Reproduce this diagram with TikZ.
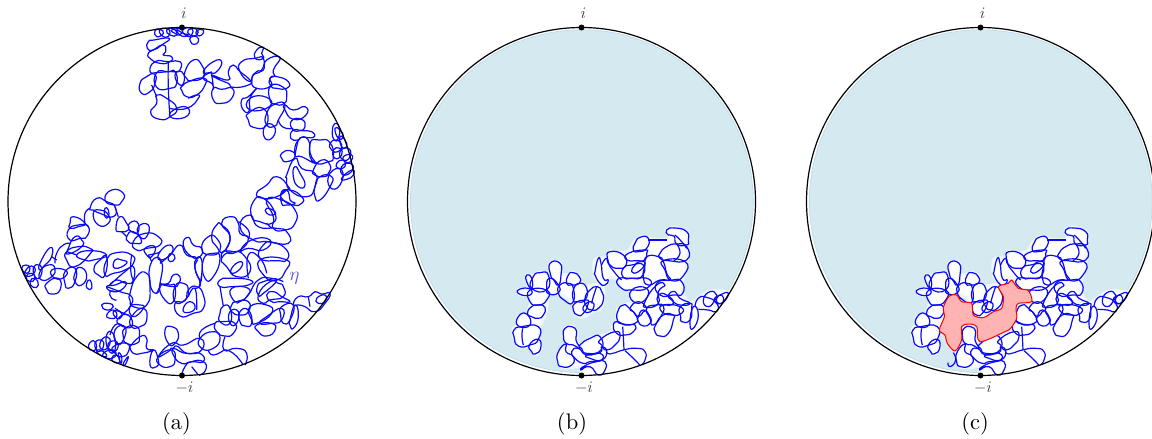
\documentclass[tikz,border=0pt]{standalone}
\definecolor{bl}{HTML}{0A0AF8}
\definecolor{discblue}{HTML}{D5E9F1}
\definecolor{discedge}{HTML}{BBDDEA}
\definecolor{halo}{HTML}{EEF7FA}
\definecolor{pinkfill}{HTML}{FFB3B3}
\newcommand\lp[1]{\draw[curve] plot[smooth cycle,tension=1] coordinates {#1};}
\newcommand\op[1]{\draw[curve] plot[smooth,tension=1] coordinates {#1};}
\newcommand\clusterhull{%
\fill[white,draw=halo,line width=2.8pt] plot[smooth cycle,tension=0.5] coordinates {(272,450)(285,437)(250,442)(215,442)(201,420)(205,395)(228,372)(220,350)(223,325)(245,318)(262,335)(260,360)(272,373)(300,353)(330,348)(370,333)(366,320)(380,300)(383,265)(405,253)(425,245)(420,212)(395,207)(381,178)(360,172)(350,192)(335,197)(313,165)(313,120)(330,113)(350,113)(360,93)(385,98)(415,93)(430,68)(450,50)(475,53)(490,58)(530,58)(538,45)(528,30)(555,22)(592,35)(597,60)(592,80)(592,120)(587,150)(577,185)(577,220)(600,248)(625,233)(660,213)(715,216)(745,240)(770,320)(600,530)(400,570)(300,535)(285,490)};
\fill[white,draw=halo,line width=2.8pt] plot[smooth cycle,tension=0.5] coordinates {(130,402)(116,380)(85,380)(70,350)(70,325)(83,315)(83,290)(110,280)(123,240)(116,227)(88,224)(86,208)(113,205)(108,165)(125,168)(150,156)(178,163)(178,130)(195,124)(212,130)(215,163)(235,163)(250,156)(270,170)(270,188)(290,198)(320,193)(337,195)(342,235)(332,267)(310,274)(280,292)(255,282)(246,247)(215,224)(177,222)(174,240)(167,280)(150,320)(147,355)(154,385)(140,402)};
}
\newcommand\clusterloops{%
\lp{(530,30)(555,24)(590,35)(595,60)(590,75)(560,72)(552,48)(535,45)}
\lp{(510,100)(530,80)(560,72)(590,80)(590,120)(535,122)(510,115)}
\op{(555,45)(575,65)(590,85)}\op{(560,72)(570,100)(552,122)}
\lp{(520,122)(585,125)(582,165)(545,182)(525,150)}
\lp{(470,110)(505,110)(520,125)(530,160)(540,180)(510,180)(475,195)(460,170)(465,135)}
\lp{(430,90)(435,70)(450,52)(475,55)(470,85)(445,95)}
\op{(475,60)(500,60)(530,60)}
\lp{(415,100)(465,90)(470,100)(465,120)(440,122)(410,120)}
\lp{(435,135)(450,125)(465,130)(445,155)(425,155)}
\lp{(360,95)(400,105)(408,135)(385,145)(360,135)(352,115)}
\op{(335,135)(350,115)(360,140)(380,165)(395,180)}
\lp{(315,155)(325,115)(333,130)(340,175)(355,180)(345,195)(330,190)(315,165)}
\lp{(400,145)(425,135)(460,135)(455,170)(425,175)(400,172)}
\lp{(383,178)(425,175)(478,178)(470,205)(425,210)(395,205)}
\lp{(425,210)(470,205)(465,240)(430,245)}
\lp{(500,190)(545,180)(575,185)(578,220)(550,225)(510,225)}
\lp{(465,245)(500,195)(525,195)(505,215)(505,250)(470,262)}
\lp{(505,225)(530,225)(550,250)(520,255)(505,250)}
\lp{(535,225)(555,215)(570,235)(600,250)(570,255)(545,240)}
\lp{(520,255)(570,260)(575,280)(545,285)(515,275)}
\lp{(420,265)(445,245)(470,265)(460,275)(445,290)(430,275)}
\lp{(385,270)(400,255)(415,262)(440,290)(435,310)(400,312)(382,300)}
\lp{(445,290)(460,270)(480,290)(480,310)(460,318)(445,305)}
\lp{(470,265)(500,255)(520,258)(515,285)(490,315)(480,295)}
\lp{(497,315)(520,285)(550,285)(550,300)(535,340)(510,348)(495,335)}
\lp{(370,315)(385,305)(405,315)(435,315)(430,335)(405,345)(380,340)}
\lp{(330,360)(375,335)(390,350)(375,375)(350,390)(335,375)}
\op{(398,320)(400,350)(402,390)}
\op{(350,390)(360,402)(400,390)(440,385)(465,395)(465,420)(455,434)}
\op{(405,392)(430,415)(450,436)}
\lp{(270,375)(300,355)(330,350)(333,390)(290,400)(275,385)}
\lp{(335,380)(350,395)(335,420)(300,415)(290,405)(330,398)}
\lp{(225,325)(245,320)(260,335)(258,360)(270,385)(250,375)(228,370)(220,345)}
\lp{(228,372)(205,395)(203,425)(215,440)(245,435)(250,410)(228,395)}
\lp{(245,395)(265,385)(290,405)(330,400)(335,420)(300,425)(280,430)(255,415)}
\lp{(272,450)(285,437)(320,425)(345,425)(345,450)(325,465)(300,440)}
\lp{(570,262)(600,250)(605,265)(600,300)(575,305)(572,290)}
\lp{(600,310)(610,260)(625,285)(610,325)}
\op{(615,260)(625,235)(650,232)(680,250)(680,275)(655,270)(625,268)}
\lp{(640,240)(660,215)(680,225)(675,240)(655,260)}
\lp{(672,240)(690,225)(715,220)(695,250)}
\lp{(680,235)(695,225)(700,245)(685,250)}
\lp{(125,205)(130,170)(150,158)(175,165)(170,210)}
\lp{(120,210)(172,212)(170,240)(145,255)(120,245)}
\lp{(120,225)(88,222)(88,208)(120,207)}
\lp{(110,165)(125,175)(125,205)(110,185)}
\lp{(180,130)(210,130)(213,165)(205,195)(190,178)(182,165)}
\lp{(178,175)(205,195)(205,218)(178,222)(170,205)}
\lp{(205,218)(210,195)(235,190)(250,205)(248,248)(222,240)}
\lp{(235,165)(250,158)(268,170)(268,190)(245,195)(230,190)}
\lp{(250,210)(268,190)(290,205)(285,240)(260,245)(250,240)}
\lp{(285,235)(300,210)(322,200)(335,215)(340,240)(325,265)(305,270)(290,260)}
\lp{(255,250)(285,240)(295,250)(280,280)(262,285)(250,270)}
\lp{(280,260)(305,245)(310,265)(290,278)}
\op{(320,200)(310,230)(305,250)}
\lp{(125,260)(145,255)(165,262)(160,285)(145,295)(125,290)(112,280)}
\lp{(85,290)(110,282)(120,315)(85,318)}
\lp{(72,330)(95,320)(145,320)(145,358)(120,375)(85,378)(72,350)}
\op{(98,325)(96,350)(100,375)}
\lp{(118,375)(145,358)(152,385)(135,402)(125,395)}
}
\tikzset{
  curve/.style={draw=bl,line width=1.2pt,line join=round},
  outline/.style={draw=black,line width=1.2pt},
  dotmark/.style={circle,fill=black,inner sep=0pt,minimum size=6pt},
  lab/.style={text=black!75,scale=1.6,inner sep=0pt},
  captext/.style={scale=2.25,inner sep=0pt},
}
\begin{document}
\begin{tikzpicture}
\useasboundingbox (0pt,0pt) rectangle (1152pt,-439pt);
\clip (0pt,0pt) rectangle (1152pt,-439pt);
\fill[white] (0pt,0pt) rectangle (1152pt,-439pt);
% ---- panel (a)
\begin{scope}[shift={(0pt,0pt)},x=0.33333pt,y=-0.33333pt]
\lp{(462,120)(445,125)(442,145)(460,150)(485,135)(508,115)}
\lp{(445,160)(460,150)(490,135)(497,155)(490,165)(515,170)(510,185)(480,190)(450,175)}
\lp{(450,215)(465,185)(505,185)(540,185)(540,210)(527,215)(505,215)(470,218)}
\lp{(420,250)(440,230)(465,222)(465,250)(450,275)(425,280)}
\lp{(470,218)(505,215)(525,215)(530,250)(510,265)(470,262)}
\lp{(525,225)(545,215)(553,240)(540,255)}
\lp{(555,215)(580,180)(605,195)(610,230)(575,242)(560,235)}
\lp{(545,260)(570,243)(612,235)(615,255)(590,285)(560,290)(545,270)}
\op{(505,185)(505,265)(510,350)}
\lp{(470,285)(500,295)(530,325)(510,350)(480,358)(452,338)(470,310)}
\op{(510,325)(560,325)(595,295)(590,285)(565,295)}
\lp{(510,350)(555,352)(565,325)(530,325)}
\op{(455,255)(470,290)}
\lp{(610,215)(640,185)(665,185)(650,215)(630,218)}
\lp{(630,218)(610,235)(635,250)(640,265)(635,225)}
\lp{(640,265)(640,300)(665,310)(695,295)(697,265)(665,268)}
\lp{(635,225)(660,240)(685,250)(700,262)(745,255)(750,240)(720,215)(700,195)(685,215)(685,240)}
\lp{(720,215)(725,185)(765,175)(790,175)(785,210)(760,225)(750,245)}
\lp{(765,175)(770,150)(790,142)(785,160)(790,175)}
\lp{(790,210)(800,180)(840,172)(820,210)(825,228)(810,235)(812,258)(770,265)(755,240)(770,215)}
\lp{(810,235)(830,230)(865,245)(860,265)(830,265)(812,258)}
\lp{(770,265)(745,290)(725,300)(730,330)(748,332)(750,295)}
\lp{(750,295)(800,292)(808,320)(750,330)}
\lp{(812,258)(850,262)(860,290)(850,312)(825,312)(810,300)}
\lp{(745,340)(790,325)(800,375)(760,382)(745,360)}
\lp{(800,340)(825,312)(855,315)(835,360)(825,378)(800,375)}
\lp{(795,378)(822,378)(820,410)(795,415)}
\lp{(855,315)(880,330)(915,320)(918,345)(880,358)(855,330)}
\op{(835,360)(850,382)(880,385)}
\lp{(875,362)(905,358)(915,380)(900,392)(878,388)}
\lp{(880,390)(905,392)(935,395)(940,412)(905,412)(895,420)(872,415)}
\op{(895,420)(890,440)(885,465)}
\lp{(885,465)(895,420)(925,420)(930,470)(945,490)(905,470)}
\lp{(930,430)(960,420)(990,428)(1000,470)(985,485)(945,485)}
\lp{(845,460)(870,452)(885,470)(860,485)(845,475)}
\lp{(860,525)(885,475)(905,505)(945,520)(945,560)(920,590)(870,570)(860,535)}
\lp{(885,500)(900,520)(915,555)(895,560)(880,530)}
\lp{(940,510)(965,480)(990,495)(985,520)(970,530)(945,525)}
\lp{(945,560)(960,530)(995,530)(990,560)(960,600)(945,590)}
\lp{(990,520)(1025,510)(1020,555)(990,562)}
\lp{(1025,535)(1055,510)(1060,525)(1040,538)}
\lp{(770,580)(800,555)(830,530)(865,560)(860,570)(830,590)(790,595)}
\lp{(845,580)(870,570)(905,590)(905,610)(880,615)(850,600)}
% right squiggles
\lp{(997,395)(1005,370)(1018,385)(1015,415)(1003,420)}
\lp{(1005,385)(1020,390)(1030,410)(1015,415)}
\lp{(990,430)(1010,420)(1025,435)(1015,455)(995,450)}
\lp{(1020,410)(1035,420)(1040,440)(1025,440)}
\lp{(1000,450)(1020,445)(1025,465)(1005,475)}
\lp{(1020,455)(1045,445)(1050,470)(1030,480)}
\lp{(1030,470)(1055,465)(1052,485)(1035,485)}
\lp{(1010,490)(1030,480)(1035,500)(1015,505)}
\lp{(1025,500)(1050,490)(1058,510)(1030,525)}
% top squiggles
\lp{(465,92)(480,88)(490,100)(470,110)}
\lp{(478,92)(500,85)(510,100)(495,112)}
\lp{(500,90)(520,85)(530,105)(510,105)}
\lp{(515,90)(545,88)(540,105)(525,100)}
\lp{(530,90)(550,100)(565,105)(545,108)}
\lp{(548,90)(575,85)(575,105)(560,108)}
\lp{(565,90)(590,88)(590,105)(570,105)}
\lp{(590,92)(610,90)(605,105)(592,105)}
\lp{(572,112)(590,110)(595,125)(582,133)(572,125)}
\end{scope}
\begin{scope}[shift={(0pt,-180pt)},x=0.33333pt,y=-0.33333pt]
\lp{(880,375)(895,350)(925,350)(945,335)(965,342)(990,340)(975,370)(945,395)(915,380)(895,375)}
\op{(925,350)(930,380)}
\lp{(950,355)(975,345)(975,365)(955,370)}
\lp{(870,420)(885,375)(895,410)(880,445)(870,435)}
\lp{(845,380)(880,375)(870,420)(850,430)(842,405)}
\lp{(800,345)(820,335)(845,350)(870,365)(840,365)(815,365)}
\lp{(775,345)(810,305)(835,310)(850,320)(850,350)(810,360)(790,370)}
\lp{(772,320)(790,305)(830,300)(790,340)(775,345)}
\op{(725,362)(745,345)(775,300)(815,295)(850,305)}
\lp{(695,320)(745,315)(750,300)(690,295)(660,300)(660,320)}
\lp{(695,325)(745,325)(740,350)(720,362)(700,360)}
\lp{(695,375)(710,365)(745,365)(745,395)(720,405)(695,395)}
\lp{(660,400)(670,378)(690,385)(690,430)(660,425)}
\lp{(690,395)(715,395)(710,430)(690,430)}
\lp{(720,395)(745,390)(755,430)(735,438)(720,425)}
\lp{(750,380)(800,375)(815,400)(770,430)(755,420)}
\lp{(800,410)(845,385)(845,420)(815,430)(780,430)}
\lp{(770,435)(815,430)(825,450)(800,468)(775,455)}
\lp{(645,430)(665,425)(705,430)(700,460)(675,468)(650,455)}
\lp{(600,475)(640,455)(660,475)(640,505)(605,505)}
\op{(675,470)(672,510)(710,505)(740,520)(735,555)}
\op{(672,510)(700,520)(730,555)}
\op{(672,510)(640,525)(625,510)}
\lp{(475,530)(515,490)(550,495)(600,475)(605,510)(560,520)(520,505)(505,515)}
\lp{(495,450)(515,440)(535,460)(525,490)(505,490)}
\lp{(520,505)(535,500)(560,520)(600,520)(610,545)(575,545)(545,550)(520,525)}
\lp{(475,530)(515,510)(525,540)(510,560)(480,555)}
\op{(545,587)(555,560)(575,545)(610,545)(617,570)(597,586)}
\op{(575,560)(595,585)}
\lp{(450,555)(460,510)(475,540)(470,560)}
\lp{(370,470)(375,445)(410,440)(418,470)(410,490)(380,490)}
\lp{(345,450)(375,440)(370,480)(350,490)}
\op{(390,500)(420,470)(440,475)(440,505)(460,510)(425,520)(400,520)(390,500)}
\lp{(340,500)(380,490)(385,515)(365,530)(345,520)}
\lp{(370,550)(385,530)(375,555)}
\lp{(265,500)(280,482)(290,500)(280,512)}
\lp{(285,490)(305,480)(310,500)(295,515)}
\lp{(300,490)(320,470)(330,490)(310,510)}
\lp{(320,465)(340,462)(345,510)(325,510)}
\lp{(325,490)(350,485)(350,510)(330,510)}
\lp{(310,520)(340,510)(345,530)(320,535)}
\lp{(290,510)(310,515)(320,530)(300,525)}
\lp{(335,535)(350,525)(360,545)(345,548)}
\lp{(355,520)(365,530)(362,550)}
\op{(330,465)(345,435)(365,435)}
\lp{(355,415)(385,405)(395,440)(360,435)}
\lp{(395,410)(430,385)(440,420)(420,440)(395,440)}
\lp{(390,380)(420,375)(430,385)(400,410)}
\lp{(305,375)(325,370)(340,380)(320,390)}
\lp{(320,405)(340,390)(350,410)(330,415)}
\lp{(340,395)(360,395)(365,410)(350,415)}
\lp{(320,320)(345,315)(375,305)(370,325)(340,335)}
\lp{(390,340)(410,290)(440,280)(450,320)(440,375)(400,380)(390,360)}
\op{(320,320)(360,335)(395,350)(390,380)(370,400)}
\op{(345,335)(330,335)(335,355)(350,360)}
\lp{(315,285)(320,240)(350,218)(395,225)(400,250)(375,270)(340,280)}
\lp{(345,240)(365,240)(380,250)(345,265)}
\lp{(375,275)(400,260)(400,300)(380,310)(350,300)(330,315)}
\lp{(282,265)(300,240)(320,230)(315,285)(295,285)}
\lp{(230,225)(270,212)(320,225)(280,240)(255,240)}
\lp{(225,280)(240,262)(260,285)(245,315)(225,305)}
\lp{(195,275)(225,265)(225,305)(205,325)(195,310)}
\lp{(140,310)(175,295)(180,330)(155,342)(140,330)}
\lp{(155,270)(195,270)(195,290)(165,295)}
\lp{(205,150)(235,135)(265,140)(260,170)(240,175)(210,180)}
\lp{(205,205)(225,170)(245,180)(245,200)(205,222)}
\lp{(210,130)(220,110)(255,130)(235,140)(210,145)}
\lp{(200,215)(235,200)(270,205)(270,222)(225,260)(200,240)}
\lp{(120,250)(150,203)(155,230)(130,260)(120,270)}
\op{(165,250)(170,220)(190,195)(210,190)}
\lp{(260,310)(270,300)(275,325)(262,325)}
\lp{(120,275)(145,255)(165,265)(155,290)(125,300)}
\lp{(270,85)(290,55)(320,65)(345,80)(340,110)(300,100)(280,90)}
\lp{(315,60)(335,30)(370,40)(365,65)(345,75)}
\lp{(280,100)(300,90)(325,105)(325,130)(295,135)}
\lp{(315,85)(325,90)(325,110)(315,110)}
\op{(255,130)(255,100)(270,85)}
\lp{(348,145)(360,110)(380,130)(385,150)(360,155)}
\lp{(385,135)(410,125)(415,155)(395,155)}
\lp{(415,140)(445,135)(440,170)(420,170)}
\lp{(380,170)(400,155)(425,185)(400,190)(385,185)}
\lp{(400,185)(435,160)(475,170)(480,195)(440,205)(410,210)}
\lp{(435,205)(465,200)(455,230)(440,225)}
\lp{(480,215)(510,195)(515,220)(480,240)}
\lp{(505,230)(515,220)(525,235)(510,245)}
\lp{(455,245)(485,245)(480,310)(470,340)(450,310)}
\op{(480,250)(510,225)(540,195)(560,225)(590,235)(585,265)(600,310)(585,325)}
\op{(480,310)(505,310)(520,285)(540,290)(535,312)(520,320)(480,312)}
\lp{(480,320)(510,315)(525,320)(520,365)(495,360)}
\lp{(525,320)(550,310)(565,330)(555,360)(525,365)}
\lp{(525,370)(555,362)(565,330)(590,320)(610,345)(610,385)(580,400)(540,408)}
\lp{(550,385)(570,365)(585,385)(560,398)}
\op{(565,350)(585,325)(590,390)}
\lp{(550,195)(565,172)(580,195)(605,205)(600,230)(575,230)}
\lp{(605,205)(625,170)(650,175)(660,210)(630,225)}
\lp{(585,265)(590,235)(605,240)(605,285)(600,300)}
\lp{(610,240)(640,220)(660,235)(640,290)(615,295)}
\lp{(635,170)(650,135)(665,135)(690,170)(670,215)(650,200)}
\lp{(665,130)(695,110)(715,130)(720,160)(745,175)(720,210)(680,215)(690,170)}
\op{(715,125)(745,150)(745,175)}
\lp{(720,215)(755,180)(810,180)(790,210)(745,205)}
\lp{(720,140)(750,105)(775,140)(830,145)(860,155)(865,190)(805,185)(760,180)}
\lp{(665,235)(700,215)(735,230)(750,275)(710,290)(680,260)}
\lp{(695,265)(720,245)(725,260)(700,280)}
\lp{(780,235)(790,195)(820,188)(860,210)(860,240)(835,242)}
\lp{(780,240)(860,240)(855,275)(830,300)(795,290)}
\op{(745,295)(745,225)(780,235)(800,280)}
\lp{(755,110)(760,65)(790,55)(825,100)(815,130)(780,125)}
\lp{(800,85)(825,95)(820,105)(800,100)}
\lp{(800,60)(845,60)(885,90)(885,130)(855,150)(820,145)(820,110)}
\lp{(845,70)(845,35)(865,35)(870,60)(885,70)(860,75)}
\lp{(65,265)(78,255)(90,265)(80,280)}
\lp{(75,275)(95,258)(105,275)(85,290)}
\lp{(78,290)(95,280)(105,295)(90,305)}
\lp{(90,305)(105,295)(115,315)(100,322)}
\lp{(100,265)(120,255)(125,280)(110,295)}
% links
\op{(380,170)(365,155)}\op{(480,240)(485,250)}\op{(445,225)(470,220)(480,215)}
\op{(605,285)(600,320)}\op{(470,340)(480,320)}\op{(230,225)(200,215)}
\op{(395,225)(392,270)(400,300)}\op{(700,215)(670,215)(665,235)}
\op{(660,320)(665,350)(670,378)}\op{(725,362)(710,370)}\op{(255,130)(265,140)}
\op{(170,240)(155,230)}\op{(345,385)(370,400)(385,405)}\op{(800,130)(815,145)}
\op{(600,475)(605,450)(645,430)}\op{(345,80)(355,110)}\op{(455,245)(445,225)}
\end{scope}
\draw[outline] (182pt,-201.5pt) circle[radius=174pt];
\node[dotmark] (ta) at (182pt,-27.5pt) {};
\node[dotmark] (ba) at (182pt,-375.5pt) {};
\node[lab] (lta) at (184pt,-13pt) {$i$};
\node[lab] (lba) at (184.5pt,-388pt) {$-i$};
\node[text=bl!70!white,scale=1.9,inner sep=0pt] (eta) at (294.5pt,-278pt) {$\eta$};
\node[captext] (ca) at (176.5pt,-424pt) {(a)};
% ---- panel (b)
\begin{scope}
\clip (581.5pt,-201.5pt) circle[radius=173pt];
\fill[discblue,draw=discedge,line width=0.7pt] (581.8pt,-201.2pt) circle[radius=171.4pt];
\begin{scope}[shift={(490pt,-220pt)},x=0.33333pt,y=-0.33333pt]
\clusterhull
\end{scope}
\end{scope}
\begin{scope}[shift={(490pt,-220pt)},x=0.33333pt,y=-0.33333pt]
\clusterloops
\end{scope}
\draw[outline] (581.5pt,-201.5pt) circle[radius=174pt];
\node[dotmark] (tb) at (581.5pt,-27.5pt) {};
\node[dotmark] (bb) at (581.5pt,-375.5pt) {};
\node[lab] (ltb) at (583.5pt,-13pt) {$i$};
\node[lab] (lbb) at (584pt,-388pt) {$-i$};
\node[captext] (cb) at (572pt,-424pt) {(b)};
% ---- panel (c)
\begin{scope}
\clip (980.5pt,-201.5pt) circle[radius=173pt];
\fill[discblue,draw=discedge,line width=0.7pt] (980.8pt,-201.2pt) circle[radius=171.4pt];
\begin{scope}[shift={(889pt,-220pt)},x=0.33333pt,y=-0.33333pt]
\clusterhull
\end{scope}
\end{scope}
\begin{scope}[shift={(889pt,-220pt)},x=0.33333pt,y=-0.33333pt]
\clusterloops
\end{scope}
\begin{scope}[shift={(890pt,-220pt)},x=0.33333pt,y=-0.33333pt]
\filldraw[fill=pinkfill,draw=red,line width=1pt,line join=round] plot[smooth cycle,tension=0.5] coordinates {(150,322)(163,290)(160,262)(178,228)(200,225)(215,245)(245,250)(250,285)(280,293)(310,275)(335,265)(340,230)(325,200)(355,190)(365,180)(385,205)(415,212)(425,245)(385,250)(378,265)(380,295)(362,325)(345,335)(270,365)(260,320)(235,312)(215,320)(215,360)(195,393)(172,370)(165,345)(150,335)};
\op{(190,398)(197,418)(188,436)(176,438)(174,428)}
\end{scope}
\draw[outline] (980.5pt,-201.5pt) circle[radius=174pt];
\node[dotmark] (tc) at (980.5pt,-27.5pt) {};
\node[dotmark] (bc) at (980.5pt,-375.5pt) {};
\node[lab] (ltc) at (982.5pt,-13pt) {$i$};
\node[lab] (lbc) at (983pt,-388pt) {$-i$};
\node[captext] (cc) at (975pt,-424pt) {(c)};
\end{tikzpicture}
\end{document}
